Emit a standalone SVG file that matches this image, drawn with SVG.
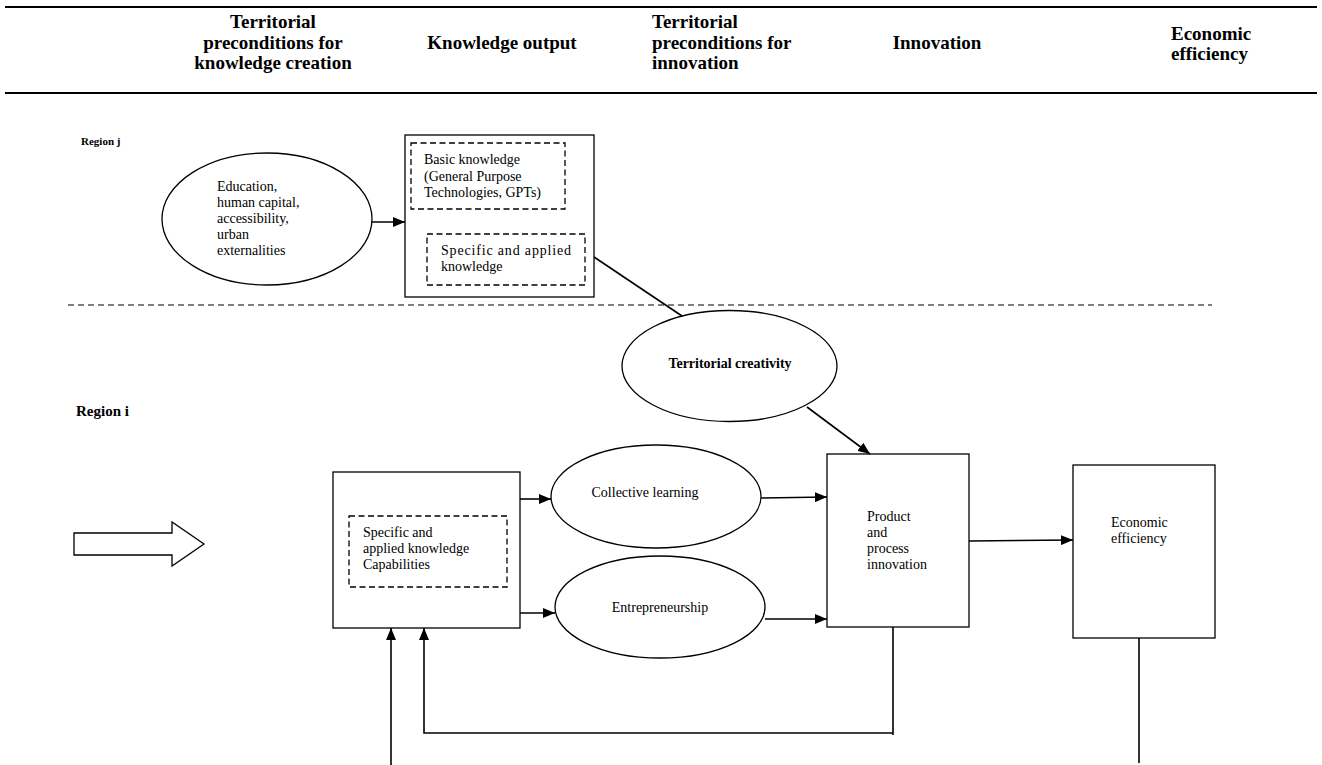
<svg xmlns="http://www.w3.org/2000/svg" width="1322" height="765" viewBox="0 0 1322 765">
<defs>
<style>
text{font-family:"Liberation Serif","Times New Roman",serif;fill:#000}
.h{font-size:19px;font-weight:bold}
.t{font-size:14px}
.b{font-weight:bold}
.box{fill:#fff;stroke:#000;stroke-width:1.3}
.dash{fill:none;stroke:#000;stroke-width:1.3;stroke-dasharray:6 3.5}
.ell{fill:#fff;stroke:#000;stroke-width:1.3}
.ln{fill:none;stroke:#000;stroke-width:1.6}
.arr{fill:none;stroke:#000;stroke-width:1.6;marker-end:url(#ah)}
</style>
<marker id="ah" markerUnits="userSpaceOnUse" markerWidth="12" markerHeight="10" refX="12" refY="5" orient="auto">
<path d="M0,0 L12,5 L0,10 z" fill="#000"/>
</marker>
<linearGradient id="fade" x1="0" x2="1" y1="0" y2="0">
<stop offset="0" stop-color="#fff"/>
<stop offset="1" stop-color="#777"/>
</linearGradient>
</defs>
<rect width="1322" height="765" fill="#fff"/>

<g id="header">
<line x1="5" y1="7" x2="1317" y2="7" stroke="#000" stroke-width="2.2"/>
<line x1="5" y1="93" x2="1317" y2="93" stroke="#000" stroke-width="2.2"/>
<text class="h" text-anchor="middle"><tspan x="273" y="28">Territorial</tspan><tspan x="273" y="49">preconditions for</tspan><tspan x="273" y="69">knowledge creation</tspan></text>
<text class="h" x="502" y="49" text-anchor="middle">Knowledge output</text>
<text class="h"><tspan x="652" y="28">Territorial</tspan><tspan x="652" y="49">preconditions for</tspan><tspan x="652" y="69">innovation</tspan></text>
<text class="h" x="937" y="49" text-anchor="middle">Innovation</text>
<text class="h"><tspan x="1171" y="40">Economic</tspan><tspan x="1171" y="60">efficiency</tspan></text>
</g>

<g id="region-j-label"><text class="b" x="81" y="145" font-size="11">Region j</text></g>

<g id="preconditions-j">
<ellipse class="ell" cx="267" cy="219" rx="105" ry="66"/>
<text class="t"><tspan x="217" y="191">Education,</tspan><tspan x="217" y="207">human capital,</tspan><tspan x="217" y="223">accessibility,</tspan><tspan x="217" y="239">urban</tspan><tspan x="217" y="255">externalities</tspan></text>
</g>

<g id="knowledge-j">
<rect class="box" x="405" y="135" width="189" height="162"/>
<rect class="dash" x="411" y="143" width="154" height="66"/>
<text class="t"><tspan x="424" y="164">Basic knowledge</tspan><tspan x="424" y="181">(General Purpose</tspan><tspan x="424" y="197">Technologies, GPTs)</tspan></text>
<rect class="dash" x="427" y="234" width="158" height="51"/>
<text class="t"><tspan x="441" y="255" textLength="130" lengthAdjust="spacing">Specific and applied</tspan><tspan x="441" y="271">knowledge</tspan></text>
</g>

<g id="separator"><line x1="68" y1="305" x2="1212" y2="305" stroke="#000" stroke-width="1.2" stroke-dasharray="6 4"/></g>

<g id="territorial-creativity">
<ellipse class="ell" cx="729.5" cy="366" rx="107.5" ry="55.5"/>
<text class="t b" x="730" y="368" text-anchor="middle">Territorial creativity</text>
</g>

<g id="region-i-label"><text class="b" x="76" y="416" font-size="15">Region i</text></g>

<g id="input-arrow">
<polygon points="74,533 172,533 172,522 204,544 172,566 172,555 74,555" fill="#fff" stroke="#000" stroke-width="1.3"/>
</g>

<g id="knowledge-i">
<rect class="box" x="333" y="472" width="187" height="156"/>
<rect class="dash" x="349" y="516" width="158" height="71"/>
<text class="t"><tspan x="363" y="537">Specific and</tspan><tspan x="363" y="553">applied knowledge</tspan><tspan x="363" y="569">Capabilities</tspan></text>
</g>

<g id="collective-learning">
<ellipse class="ell" cx="656" cy="496.5" rx="105" ry="51.5"/>
<text class="t" x="645" y="497" text-anchor="middle">Collective learning</text>
</g>

<g id="entrepreneurship">
<ellipse class="ell" cx="660" cy="607" rx="105" ry="51"/>
<text class="t" x="660" y="612" text-anchor="middle">Entrepreneurship</text>
</g>

<g id="innovation">
<rect class="box" x="827" y="454" width="142" height="173"/>
<text class="t"><tspan x="867" y="521">Product</tspan><tspan x="867" y="537">and</tspan><tspan x="867" y="553">process</tspan><tspan x="867" y="569">innovation</tspan></text>
</g>

<g id="economic-efficiency">
<rect class="box" x="1073" y="465" width="142" height="173"/>
<text class="t"><tspan x="1111" y="527">Economic</tspan><tspan x="1111" y="543">efficiency</tspan></text>
</g>

<g id="connectors">
<line class="arr" x1="372" y1="222" x2="405" y2="222"/>
<line class="ln" x1="594" y1="257" x2="682" y2="316"/>
<line class="arr" x1="807" y1="407" x2="870" y2="454"/>
<line class="arr" x1="520" y1="499" x2="551" y2="499"/>
<line class="arr" x1="520" y1="613" x2="555" y2="613"/>
<line class="arr" x1="761" y1="498" x2="827" y2="497"/>
<line class="arr" x1="765" y1="619" x2="827" y2="619"/>
<line class="arr" x1="969" y1="541" x2="1073" y2="540"/>
<polyline class="ln" points="893,627 893,735"/>
<polyline class="arr" points="893,733 424,733 424,628"/>
<line class="arr" x1="391" y1="765" x2="391" y2="628"/>
<line class="ln" x1="1139" y1="638" x2="1139" y2="763"/>
<line x1="930" y1="762.5" x2="1139" y2="762.5" stroke="url(#fade)" stroke-width="1.5"/>
</g>
</svg>
